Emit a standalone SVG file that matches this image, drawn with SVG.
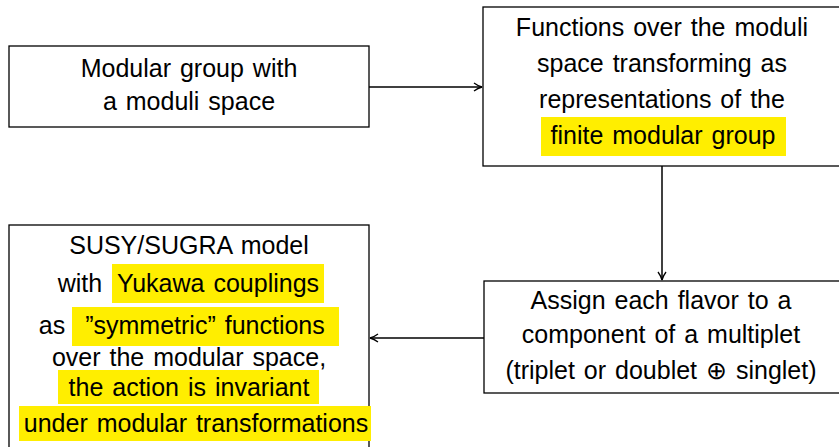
<svg xmlns="http://www.w3.org/2000/svg" width="839" height="447" viewBox="0 0 839 447">
<defs>
<style>
.box{fill:#fff;stroke:#000;stroke-width:1.3}
.t{font-family:"Liberation Sans",Arial,sans-serif;font-size:25px;fill:#000;text-anchor:middle;word-spacing:2px}
.hl{fill:#ffee00}
.c{stroke:#000;stroke-width:1.5;fill:none}
</style>
<marker id="ah" viewBox="0 0 10 10" refX="9" refY="5" markerWidth="10" markerHeight="10" markerUnits="userSpaceOnUse" orient="auto">
<path d="M1,1 Q5,4 9,5 Q5,6 1,9" fill="none" stroke="#000" stroke-width="1.3"/>
</marker>
</defs>
<rect width="839" height="447" fill="#fff"/>
<g id="n1">
<rect class="box" x="9" y="46" width="360" height="81"/>
<text class="t" x="189" y="77">Modular group with</text>
<text class="t" x="189" y="110">a moduli space</text>
</g>
<g id="n2">
<rect class="box" x="483" y="7" width="360" height="159"/>
<rect class="hl" x="541" y="117" width="245" height="39"/>
<text class="t" x="662" y="36">Functions over the moduli</text>
<text class="t" x="662" y="72">space transforming as</text>
<text class="t" x="662" y="108">representations of the</text>
<text class="t" x="663" y="144">finite modular group</text>
</g>
<g id="n3">
<rect class="box" x="9" y="225" width="360" height="240"/>
<rect class="hl" x="112" y="264" width="212" height="39"/>
<rect class="hl" x="72" y="307" width="267" height="39"/>
<rect class="hl" x="58" y="370" width="261" height="34"/>
<rect class="hl" x="19" y="406" width="352" height="35"/>
<text class="t" x="189" y="254">SUSY/SUGRA model</text>
<text class="t" x="189" y="292"><tspan x="80">with</tspan><tspan x="218">Yukawa couplings</tspan></text>
<text class="t" x="189" y="334"><tspan x="52">as</tspan><tspan x="205">”symmetric” functions</tspan></text>
<text class="t" x="189" y="366">over the modular space,</text>
<text class="t" x="189" y="396">the action is invariant</text>
<text class="t" x="196" y="432">under modular transformations</text>
</g>
<g id="n4">
<rect class="box" x="484" y="281" width="360" height="112"/>
<text class="t" x="661" y="309">Assign each flavor to a</text>
<text class="t" x="661" y="343">component of a multiplet</text>
<text class="t" x="661" y="379">(triplet or doublet ⊕ singlet)</text>
</g>
<g id="connectors">
<line class="c" x1="369" y1="87" x2="482" y2="87" marker-end="url(#ah)"/>
<line class="c" x1="662" y1="166" x2="662" y2="280" marker-end="url(#ah)"/>
<line class="c" x1="484" y1="338" x2="370" y2="338" marker-end="url(#ah)"/>
</g>
</svg>
